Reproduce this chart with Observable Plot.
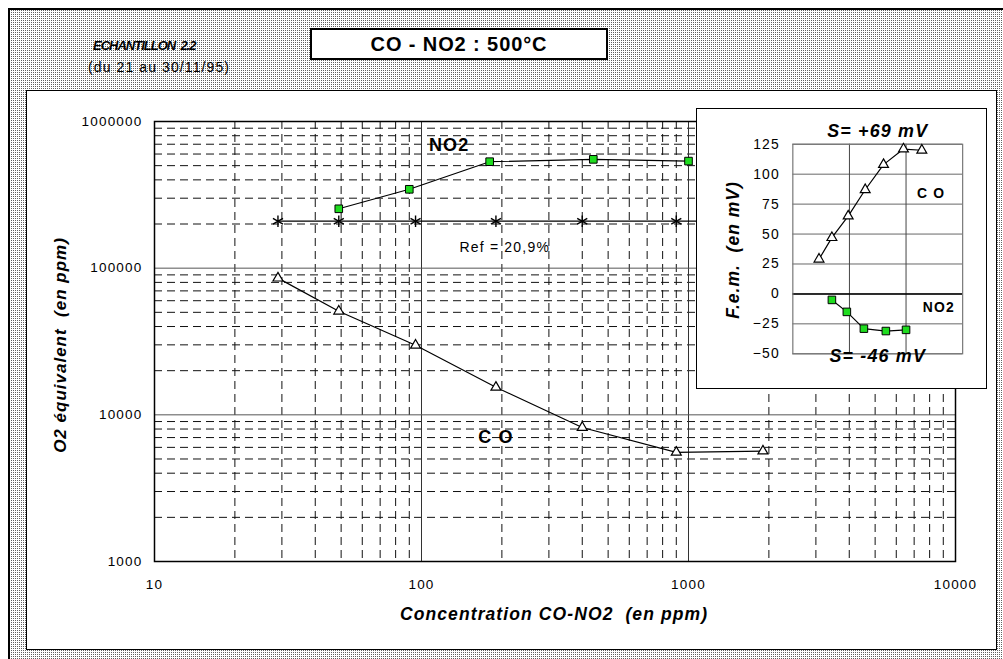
<!DOCTYPE html>
<html>
<head>
<meta charset="utf-8">
<script src="https://cdn.jsdelivr.net/npm/d3@7"></script>
<script src="https://cdn.jsdelivr.net/npm/@observablehq/plot@0.6"></script>
<style>
  body { margin: 0; background: #fff; }
  #page { position: relative; width: 1003px; height: 659px; overflow: hidden; background: #fff;
          font-family: "Liberation Sans", Arial, sans-serif; }
  #outer { position: absolute; left: 8px; top: 8px; width: 1010px; height: 670px;
           border-left: 2px solid #000; border-top: 2px solid #000;
           background: conic-gradient(#606060 0 25%, #fff 0 100%) 0 0 / 2px 2px; }
  #panel { position: absolute; left: 26px; top: 90px; width: 969px; height: 558px;
           background: #fff; border: 1px solid #000; }
  #chart { position: absolute; left: 0; top: 0; }
  #titlebox { position: absolute; left: 310px; top: 28px; width: 294px; height: 28px;
              background: #fff; border: 2px solid #000; text-align: center;
              font-weight: bold; font-size: 20px; letter-spacing: 0.9px; line-height: 29px; }
  .t { position: absolute; white-space: nowrap; color: #000; }
  #inset { position: absolute; left: 696px; top: 108px; width: 289px; height: 279px;
           background: #fff; border: 1px solid #000; }
  #inset svg { position: absolute; left: -1px; top: -1px; }
  svg text { letter-spacing: 1.2px; }
</style>
</head>
<body>
<div id="page">
  <div id="outer"></div>
  <div id="panel"></div>
  <div id="chart"></div>
  <div id="titlebox">CO - NO2 : 500°C</div>
  <div class="t" style="left:93px;top:38px;font-size:13px;font-weight:bold;font-style:italic;letter-spacing:-1px;">ECHANTILLON&nbsp; 2.2</div>
  <div class="t" style="left:88px;top:59px;font-size:14px;letter-spacing:1.1px;">(du 21 au 30/11/95)</div>
  <div class="t" style="left:61px;top:345px;font-size:17px;font-weight:bold;font-style:italic;letter-spacing:1px;transform:translate(-50%,-50%) rotate(-90deg);">O2 équivalent&nbsp; (en ppm)</div>
  <div class="t" style="left:554px;top:614px;font-size:17.5px;font-weight:bold;font-style:italic;letter-spacing:1.1px;transform:translate(-50%,-50%);">Concentration CO-NO2&nbsp; (en ppm)</div>
  <div id="inset"></div>
  <div class="t" style="left:733px;top:250px;font-size:17.5px;font-weight:bold;font-style:italic;letter-spacing:1px;transform:translate(-50%,-50%) rotate(-90deg);">F.e.m.&nbsp; (en mV)</div>
</div>
<script>
// ---------- data ----------
const coX   = [29, 49, 95, 190, 400, 900, 1900];
const coO2  = [85500, 50900, 29800, 15400, 8200, 5550, 5660];
const no2X  = [49, 90, 180, 440, 1000];
const no2O2 = [254000, 345000, 532000, 552000, 537000];
const refX  = [29, 49, 95, 190, 400, 900, 1900];
const refO2 = [209000, 209000, 209000, 209000, 209000, 209000, 209000];
const coMV  = [29, 47, 65, 87, 108, 121, 120];
const no2MV = [-5, -15, -29, -31, -30];

const xTicks = [10, 100, 1000, 10000];
const yTicks = [1000, 10000, 100000, 1000000];
const xMinor = [20, 30, 40, 50, 60, 70, 80, 90, 200, 300, 400, 500, 600, 700, 800, 900,
                2000, 3000, 4000, 5000, 6000, 7000, 8000, 9000];
const yMinor = [2000, 3000, 4000, 5000, 6000, 7000, 8000, 9000,
                20000, 30000, 40000, 50000, 60000, 70000, 80000, 90000,
                200000, 300000, 400000, 500000, 600000, 700000, 800000, 900000];
const xMajor = [100, 1000];
const yMajor = [10000, 100000];
const mvTicks = [-50, -25, 0, 25, 50, 75, 100, 125];
const insetGridX = [100, 1000];

const mainLabels = [
  {x: 127, y: 690000, text: "NO2", kind: "bold"},
  {x: 205, y: 139000, text: "Ref = 20,9%", kind: "normal"},
  {x: 190, y: 7000, text: "C O", kind: "bold"}
];
const insetLabels = [
  {x: 2770, y: 84, text: "C O"},
  {x: 3800, y: -11, text: "NO2"}
];

const co  = coX.map((x, i) => ({x, y: coO2[i]}));
const no2 = no2X.map((x, i) => ({x, y: no2O2[i]}));
const ref = refX.map((x, i) => ({x, y: refO2[i]}));
const coI  = coX.map((x, i) => ({x, y: coMV[i]}));
const no2I = no2X.map((x, i) => ({x, y: no2MV[i]}));

const green = "#1fdc1f";
const font = "'Liberation Sans', Arial, sans-serif";

const main = Plot.plot({
  width: 1003, height: 659,
  marginLeft: 154, marginRight: 48, marginTop: 121, marginBottom: 98,
  style: {background: "transparent", fontFamily: font, fontSize: "13.5px", color: "#000", overflow: "visible"},
  x: {type: "log", domain: [10, 10000], ticks: xTicks, tickFormat: d => String(d), tickSize: 0, tickPadding: 18, label: null},
  y: {type: "log", domain: [1000, 1000000], ticks: yTicks, tickFormat: d => String(d), tickSize: 0, tickPadding: 12, label: null},
  marks: [
    Plot.ruleX(xMinor, {stroke: "#111", strokeWidth: 1, strokeDasharray: "8,5"}),
    Plot.ruleY(yMinor, {stroke: "#111", strokeWidth: 1, strokeDasharray: "8,5"}),
    Plot.ruleX(xMajor, {stroke: "#333", strokeWidth: 1}),
    Plot.ruleY(yMajor, {stroke: "#555", strokeWidth: 1}),
    Plot.frame({stroke: "#000", strokeWidth: 1.5}),
    Plot.line(ref, {x: "x", y: "y", stroke: "#000", strokeWidth: 1.2}),
    Plot.dot(ref, {x: "x", y: "y", symbol: "asterisk", stroke: "#000", strokeWidth: 1.4, r: 5.5}),
    Plot.line(co, {x: "x", y: "y", stroke: "#000", strokeWidth: 1.2}),
    Plot.dot(co, {x: "x", y: "y", symbol: "triangle", fill: "#fff", stroke: "#000", strokeWidth: 1.2, r: 3.7}),
    Plot.line(no2, {x: "x", y: "y", stroke: "#000", strokeWidth: 1.2}),
    Plot.dot(no2, {x: "x", y: "y", symbol: "square", fill: green, stroke: "#000", strokeWidth: 1, r: 4.3}),
    Plot.text(mainLabels.filter(d => d.kind === "bold"), {x: "x", y: "y", text: "text", fontSize: 18, fontWeight: "bold", fill: "#000"}),
    Plot.text(mainLabels.filter(d => d.kind !== "bold"), {x: "x", y: "y", text: "text", fontSize: 14, fill: "#000"})
  ]
});
document.getElementById("chart").appendChild(main);

const inset = Plot.plot({
  width: 291, height: 281,
  marginLeft: 97, marginTop: 36, marginRight: 23, marginBottom: 34,
  style: {background: "transparent", fontFamily: font, fontSize: "14px", color: "#000", overflow: "visible"},
  x: {type: "log", domain: [10, 10000], axis: null},
  y: {domain: [-50, 125], ticks: mvTicks, tickSize: 0, tickPadding: 13, label: null},
  marks: [
    Plot.ruleY(mvTicks, {stroke: "#666", strokeWidth: 1}),
    Plot.ruleX(insetGridX, {stroke: "#444", strokeWidth: 1}),
    Plot.ruleY([0], {stroke: "#000", strokeWidth: 1.6}),
    Plot.frame({stroke: "#777", strokeWidth: 1.2}),
    Plot.line(coI, {x: "x", y: "y", stroke: "#000", strokeWidth: 1.2}),
    Plot.dot(coI, {x: "x", y: "y", symbol: "triangle", fill: "#fff", stroke: "#000", strokeWidth: 1.2, r: 3.7}),
    Plot.line(no2I, {x: "x", y: "y", stroke: "#000", strokeWidth: 1.2}),
    Plot.dot(no2I, {x: "x", y: "y", symbol: "square", fill: green, stroke: "#000", strokeWidth: 1, r: 4.3}),
    Plot.text(insetLabels, {x: "x", y: "y", text: "text", fontSize: 14, fontWeight: "bold", fill: "#000"}),
    Plot.text(["S= +69 mV"], {frameAnchor: "top", lineAnchor: "middle", dy: -13, fontSize: 18, fontWeight: "bold", fontStyle: "italic", fill: "#000"}),
    Plot.text(["S= -46 mV"], {frameAnchor: "bottom", lineAnchor: "middle", dy: 2, fontSize: 18, fontWeight: "bold", fontStyle: "italic", fill: "#000"})
  ]
});
document.getElementById("inset").appendChild(inset);
</script>
</body>
</html>
